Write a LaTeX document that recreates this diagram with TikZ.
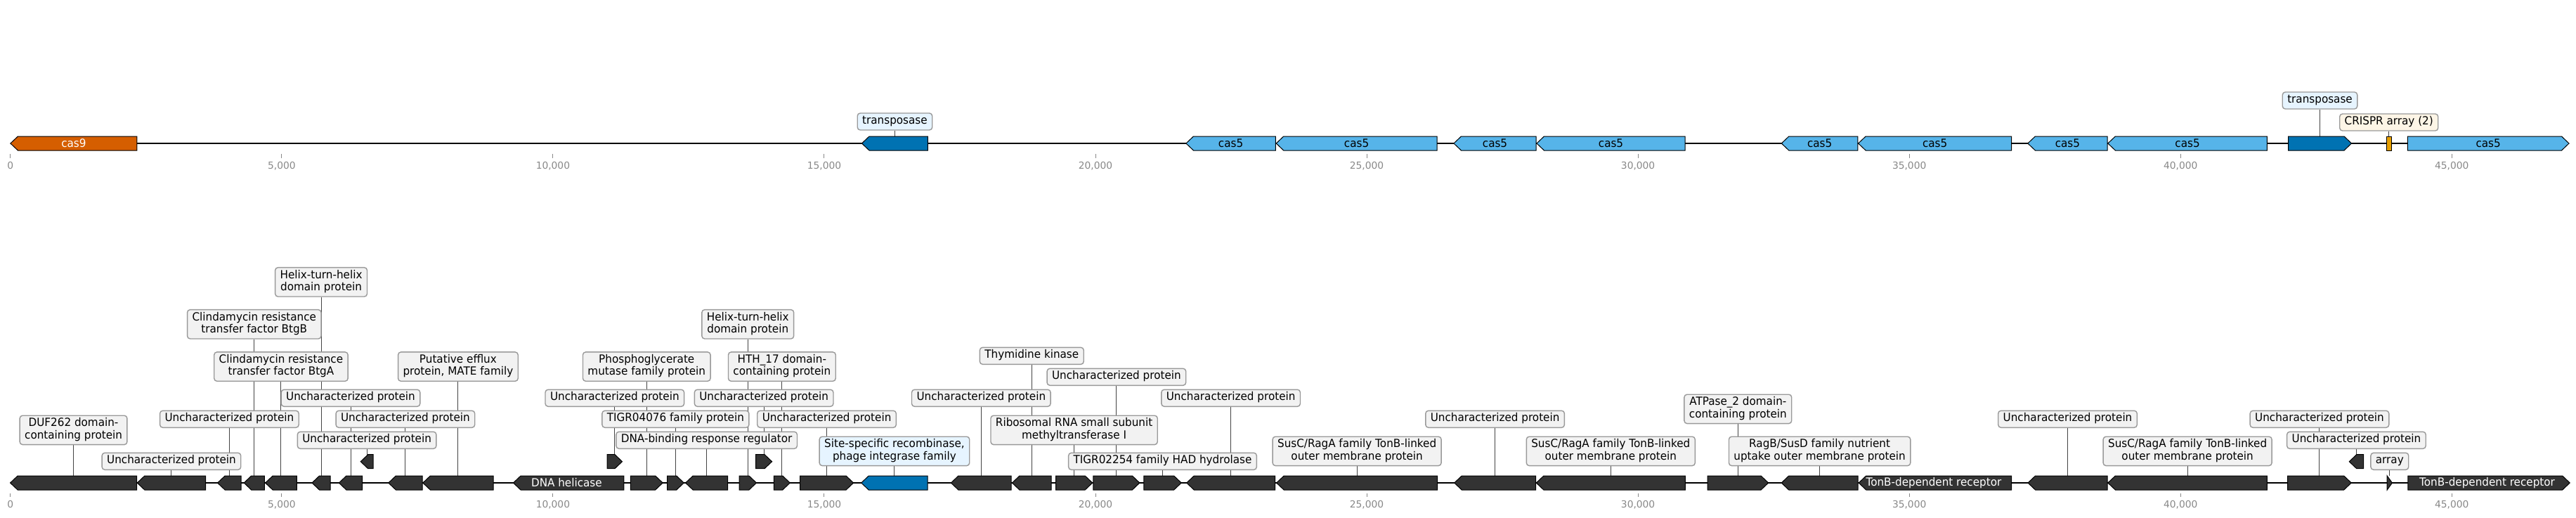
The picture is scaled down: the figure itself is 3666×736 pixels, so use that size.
\documentclass[tikz,border=0pt]{standalone}
\usepackage{fontspec}
\setmainfont{DejaVu Sans}
\newfontfamily\annotfont{DejaVu Sans}[FakeStretch=0.95]
\usepackage{tikz}
\usetikzlibrary{positioning,calc}
\pgfdeclarelayer{background}
\pgfsetlayers{background,main}

\definecolor{casorange}{HTML}{D55E00}
\definecolor{casblue}{HTML}{56B4E9}
\definecolor{tnpblue}{HTML}{0072B2}
\definecolor{crisprorange}{HTML}{E69F00}
\definecolor{genedark}{HTML}{333333}
\definecolor{annotfill}{HTML}{F2F2F2}
\definecolor{annotedge}{HTML}{999999}
\definecolor{tnpfill}{HTML}{E6F4FF}
\definecolor{crisprfill}{HTML}{FDF5E6}
\definecolor{axisgray}{HTML}{888888}
\definecolor{leadergray}{HTML}{444444}

\tikzset{
    annot/.style={
        rectangle,
        draw=annotedge,
        fill=annotfill,
        line width=0.7pt,
        rounded corners=2pt,
        align=center,
        inner xsep=3.5pt,
        inner ysep=1.625pt,
        font=\annotfont\fontsize{8}{8.75}\selectfont,
        execute at begin node=\strut,
        execute at end node=\strut
    },
    leader/.style={
        draw=leadergray,
        line width=0.5pt
    },
    backbone/.style={
        draw=black,
        line width=1.1pt
    },
    geneshape/.style={
        draw=black,
        line width=0.5pt
    },
    darkgene/.style={geneshape, fill=genedark},
    casnine/.style={geneshape, fill=casorange},
    casfive/.style={geneshape, fill=casblue},
    tnp/.style={geneshape, fill=tnpblue},
    crispr/.style={geneshape, fill=crisprorange},
    genetext/.style={
        text=white,
        inner sep=0pt,
        font=\annotfont\fontsize{8}{8.75}\selectfont
    },
    tickmark/.style={
        draw=axisgray,
        line width=0.5pt
    },
    axislabel/.style={
        text=axisgray,
        anchor=base,
        inner sep=0pt,
        font=\fontsize{6.9}{8}\selectfont
    }
}

% gene pointing right: name, left, right, centre y, style
\newcommand{\rgene}[5]{%
    \pgfmathsetmacro{\ghead}{min(10.5,#3-#2)}
    \draw[#5] (#2,#4-10) -- ({#3-\ghead},#4-10) -- (#3,#4) -- ({#3-\ghead},#4+10) -- (#2,#4+10) -- cycle;
    \coordinate (#1) at ({(#2+#3)/2},#4-10);
}
% gene pointing left
\newcommand{\lgene}[5]{%
    \pgfmathsetmacro{\ghead}{min(10.5,#3-#2)}
    \draw[#5] (#3,#4-10) -- ({#2+\ghead},#4-10) -- (#2,#4) -- ({#2+\ghead},#4+10) -- (#3,#4+10) -- cycle;
    \coordinate (#1) at ({(#2+#3)/2},#4-10);
}

\begin{document}
\begin{tikzpicture}[x=0.5pt, y=-0.5pt]
    \useasboundingbox (0,0) rectangle (3666,736);

    % CRISPR track
    \draw[backbone] (14.8,204) -- (3656,204);
    \lgene{cas9}{14.9}{194.9}{204}{casnine}
    \lgene{tnpa}{1226.5}{1320.4}{204}{tnp}
    \lgene{casa}{1687.9}{1815.4}{204}{casfive}
    \lgene{casb}{1816.2}{2045}{204}{casfive}
    \lgene{casc}{2068.9}{2186.1}{204}{casfive}
    \lgene{casd}{2186.9}{2398.2}{204}{casfive}
    \lgene{case}{2535.3}{2643.9}{204}{casfive}
    \lgene{casf}{2644.6}{2862.6}{204}{casfive}
    \lgene{casg}{2885.8}{2999}{204}{casfive}
    \lgene{cash}{2999.8}{3226.3}{204}{casfive}
    \rgene{tnpb}{3256.5}{3346.5}{204}{tnp}
    \draw[crispr] (3396,194.5) rectangle (3403.5,214.3);
    \coordinate (crispr) at (3399.7,194.5);
    \rgene{casi}{3426.3}{3656}{204}{casfive}

    \node[genetext] (cas9-t) at (104.9,204) {cas9};
    \node[genetext, text=black] (casa-t) at (1751.6,204) {cas5};
    \node[genetext, text=black] (casb-t) at (1930.6,204) {cas5};
    \node[genetext, text=black] (casc-t) at (2127.5,204) {cas5};
    \node[genetext, text=black] (casd-t) at (2292.5,204) {cas5};
    \node[genetext, text=black] (case-t) at (2589.6,204) {cas5};
    \node[genetext, text=black] (casf-t) at (2753.6,204) {cas5};
    \node[genetext, text=black] (casg-t) at (2942.4,204) {cas5};
    \node[genetext, text=black] (cash-t) at (3113,204) {cas5};
    \node[genetext, text=black] (casi-t) at (3541.1,204) {cas5};

    \node[annot, fill=tnpfill, above=4.15pt of tnpa] (tnpa-l) {transposase};
    \node[annot, fill=tnpfill, above=19.15pt of tnpb] (tnpb-l) {transposase};
    \node[annot, fill=crisprfill, above=3.9pt of crispr] (crispr-l) {CRISPR array (2)};

    % annotated track
    \draw[backbone] (14.6,687) -- (3657,687);
    \lgene{duf}{14.6}{194.5}{687}{darkgene}
    \lgene{unka}{195.3}{292.6}{687}{darkgene}
    \lgene{unkb}{309.6}{343.2}{687}{darkgene}
    \lgene{btgb}{347.2}{376.4}{687}{darkgene}
    \lgene{btga}{377.6}{422.3}{687}{darkgene}
    \lgene{htha}{444}{470.1}{687}{darkgene}
    \lgene{unkc}{482.4}{515.6}{687}{darkgene}
    \lgene{unkd}{513.2}{531}{656.7}{darkgene}
    \lgene{unke}{552.8}{601}{687}{darkgene}
    \lgene{mate}{601.8}{702}{687}{darkgene}
    \lgene{heli}{730.5}{887.9}{687}{darkgene}
    \rgene{unkf}{864.1}{885.5}{656.7}{darkgene}
    \rgene{pgm}{897.3}{943.2}{687}{darkgene}
    \rgene{tigra}{949.5}{973.3}{687}{darkgene}
    \lgene{dbrr}{975.6}{1035.7}{687}{darkgene}
    \rgene{hthb}{1052}{1076.5}{687}{darkgene}
    \rgene{unkg}{1075.7}{1098.6}{656.7}{darkgene}
    \rgene{hthc}{1101.4}{1124.3}{687}{darkgene}
    \rgene{unkh}{1138.5}{1214.6}{687}{darkgene}
    \lgene{recomb}{1225.7}{1320.2}{687}{tnp}
    \lgene{unki}{1353.4}{1439.2}{687}{darkgene}
    \lgene{tdk}{1440.4}{1496.2}{687}{darkgene}
    \rgene{rsm}{1502.5}{1554.7}{687}{darkgene}
    \rgene{unkj}{1555.9}{1621.9}{687}{darkgene}
    \rgene{had}{1627.8}{1681.2}{687}{darkgene}
    \lgene{unkk}{1688.7}{1814.6}{687}{darkgene}
    \lgene{susa}{1816.6}{2045.6}{687}{darkgene}
    \lgene{unkl}{2069.7}{2185.5}{687}{darkgene}
    \lgene{susb}{2186.3}{2398.3}{687}{darkgene}
    \rgene{atp}{2430}{2516.6}{687}{darkgene}
    \lgene{ragb}{2535.2}{2644}{687}{darkgene}
    \lgene{tbdra}{2645.2}{2862.6}{687}{darkgene}
    \lgene{unkm}{2886}{2999}{687}{darkgene}
    \lgene{susc}{2999.8}{3226.4}{687}{darkgene}
    \rgene{unkn}{3255.7}{3346.2}{687}{darkgene}
    \lgene{unko}{3343.2}{3363.6}{656.7}{darkgene}
    \rgene{arr}{3397.2}{3404.4}{687}{darkgene}
    \rgene{tbdrb}{3426.9}{3657.2}{687}{darkgene}

    \node[genetext] (heli-t) at (806.4,687) {DNA helicase};
    \node[genetext] (tbdra-t) at (2751.9,687) {TonB-dependent receptor};
    \node[genetext] (tbdrb-t) at (3539.5,687) {TonB-dependent receptor};

    \node[annot, above=21.85pt of duf] (duf-l) {DUF262 domain-\\containing protein};
    \node[annot, above=4pt of unka] (unka-l) {Uncharacterized protein};
    \node[annot, above=34pt of unkb] (unkb-l) {Uncharacterized protein};
    \node[annot, above=97.15pt of btgb] (btgb-l) {Clindamycin resistance\\transfer factor BtgB};
    \node[annot, above=67pt of btga] (btga-l) {Clindamycin resistance\\transfer factor BtgA};
    \node[annot, above=127.15pt of htha] (htha-l) {Helix-turn-helix\\domain protein};
    \node[annot, above=49pt of unkc] (unkc-l) {Uncharacterized protein};
    \node[annot, above=3.85pt of unkd] (unkd-l) {Uncharacterized protein};
    \node[annot, above=34pt of unke] (unke-l) {Uncharacterized protein};
    \node[annot, above=67pt of mate] (mate-l) {Putative efflux\\protein, MATE family};
    \node[annot, above=33.85pt of unkf] (unkf-l) {Uncharacterized protein};
    \node[annot, above=67pt of pgm] (pgm-l) {Phosphoglycerate\\mutase family protein};
    \node[annot, above=34pt of tigra] (tigra-l) {TIGR04076 family protein};
    \node[annot, above=19pt of dbrr] (dbrr-l) {DNA-binding response regulator};
    \node[annot, above=97.15pt of hthb] (hthb-l) {Helix-turn-helix\\domain protein};
    \node[annot, above=33.85pt of unkg] (unkg-l) {Uncharacterized protein};
    \node[annot, above=67pt of hthc] (hthc-l) {HTH\_17 domain-\\containing protein};
    \node[annot, above=34pt of unkh] (unkh-l) {Uncharacterized protein};
    \node[annot, fill=tnpfill, above=6.85pt of recomb] (recomb-l) {Site-specific recombinase,\\phage integrase family};
    \node[annot, above=49pt of unki] (unki-l) {Uncharacterized protein};
    \node[annot, above=79pt of tdk] (tdk-l) {Thymidine kinase};
    \node[annot, above=21.85pt of rsm] (rsm-l) {Ribosomal RNA small subunit\\methyltransferase I};
    \node[annot, above=64pt of unkj] (unkj-l) {Uncharacterized protein};
    \node[annot, above=4pt of had] (had-l) {TIGR02254 family HAD hydrolase};
    \node[annot, above=49pt of unkk] (unkk-l) {Uncharacterized protein};
    \node[annot, above=6.85pt of susa] (susa-l) {SusC/RagA family TonB-linked\\outer membrane protein};
    \node[annot, above=34pt of unkl] (unkl-l) {Uncharacterized protein};
    \node[annot, above=6.85pt of susb] (susb-l) {SusC/RagA family TonB-linked\\outer membrane protein};
    \node[annot, above=36.85pt of atp] (atp-l) {ATPase\_2 domain-\\containing protein};
    \node[annot, above=6.85pt of ragb] (ragb-l) {RagB/SusD family nutrient\\uptake outer membrane protein};
    \node[annot, above=34pt of unkm] (unkm-l) {Uncharacterized protein};
    \node[annot, above=6.85pt of susc] (susc-l) {SusC/RagA family TonB-linked\\outer membrane protein};
    \node[annot, above=34pt of unkn] (unkn-l) {Uncharacterized protein};
    \node[annot, above=3.85pt of unko] (unko-l) {Uncharacterized protein};
    \node[annot, above=4pt of arr] (arr-l) {array};

    % leader lines sit behind the boxes
    \begin{pgfonlayer}{background}
        \draw[leader] (tnpa) -- (tnpa-l.south);
        \draw[leader] (tnpb) -- (tnpb-l.south);
        \draw[leader] (crispr) -- (crispr-l.south);
        \draw[leader] (duf) -- (duf-l.south);
        \draw[leader] (unka) -- (unka-l.south);
        \draw[leader] (unkb) -- (unkb-l.south);
        \draw[leader] (btgb) -- (btgb-l.south);
        \draw[leader] (btga) -- (btga-l.south);
        \draw[leader] (htha) -- (htha-l.south);
        \draw[leader] (unkc) -- (unkc-l.south);
        \draw[leader] (unkd) -- (unkd-l.south);
        \draw[leader] (unke) -- (unke-l.south);
        \draw[leader] (mate) -- (mate-l.south);
        \draw[leader] (unkf) -- (unkf-l.south);
        \draw[leader] (pgm) -- (pgm-l.south);
        \draw[leader] (tigra) -- (tigra-l.south);
        \draw[leader] (dbrr) -- (dbrr-l.south);
        \draw[leader] (hthb) -- (hthb-l.south);
        \draw[leader] (unkg) -- (unkg-l.south);
        \draw[leader] (hthc) -- (hthc-l.south);
        \draw[leader] (unkh) -- (unkh-l.south);
        \draw[leader] (recomb) -- (recomb-l.south);
        \draw[leader] (unki) -- (unki-l.south);
        \draw[leader] (tdk) -- (tdk-l.south);
        \draw[leader] (rsm) -- (rsm-l.south);
        \draw[leader] (unkj) -- (unkj-l.south);
        \draw[leader] (had) -- (had-l.south);
        \draw[leader] (unkk) -- (unkk-l.south);
        \draw[leader] (susa) -- (susa-l.south);
        \draw[leader] (unkl) -- (unkl-l.south);
        \draw[leader] (susb) -- (susb-l.south);
        \draw[leader] (atp) -- (atp-l.south);
        \draw[leader] (ragb) -- (ragb-l.south);
        \draw[leader] (unkm) -- (unkm-l.south);
        \draw[leader] (susc) -- (susc-l.south);
        \draw[leader] (unkn) -- (unkn-l.south);
        \draw[leader] (unko) -- (unko-l.south);
        \draw[leader] (arr) -- (arr-l.south);
    \end{pgfonlayer}

    % axes of both tracks
    \foreach \k/\lab in {0/0, 1/{5,000}, 2/{10,000}, 3/{15,000}, 4/{20,000}, 5/{25,000}, 6/{30,000}, 7/{35,000}, 8/{40,000}, 9/{45,000}} {
        \draw[tickmark] ({14.8+386.05*\k},219) -- ({14.8+386.05*\k},225);
        \node[axislabel] (top-\k) at ({14.8+386.05*\k},240.7) {\lab};
        \draw[tickmark] ({14.8+386.05*\k},702) -- ({14.8+386.05*\k},707);
        \node[axislabel] (bot-\k) at ({14.8+386.05*\k},722.3) {\lab};
    }
\end{tikzpicture}
\end{document}
